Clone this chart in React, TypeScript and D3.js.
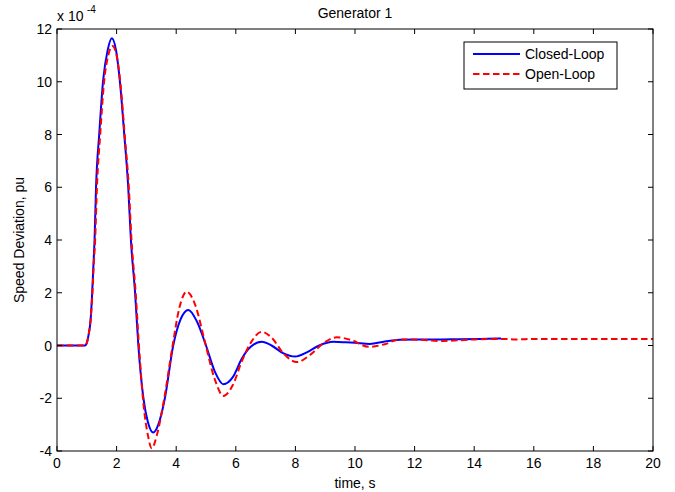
import React from 'react'
import * as d3 from 'd3'

// closed-loop response (speed deviation, x 1e-4 pu)
const closedT = [0, 0.94, 1.0, 1.06, 1.13, 1.18, 1.22, 1.26, 1.31, 1.42, 1.55, 1.7, 1.84, 1.98, 2.12, 2.25, 2.39, 2.48, 2.62, 2.73, 2.9, 3.05, 3.23, 3.4, 3.62, 3.9, 4.15, 4.41, 4.7, 5.0, 5.3, 5.58, 5.9, 6.2, 6.5, 6.87, 7.2, 7.6, 7.99, 8.4, 8.8, 9.27, 9.7, 10.0, 10.5, 11.0, 11.5, 12.0, 12.8, 13.5, 14.2, 14.9]
const closedV = [0, 0, 0.1, 0.4, 1.0, 2.0, 3.0, 4.0, 6.0, 8.06, 10.07, 11.2, 11.65, 11.2, 9.9, 8.1, 6.0, 4.0, 2.0, 0, -2, -2.9, -3.3, -3.0, -2.0, 0, 1.0, 1.35, 0.9, 0, -1.0, -1.47, -1.2, -0.5, -0.05, 0.14, 0.0, -0.3, -0.42, -0.25, 0.0, 0.14, 0.12, 0.1, 0.06, 0.15, 0.22, 0.23, 0.23, 0.24, 0.25, 0.27]

// open-loop response
const openT = [0, 0.94, 1.0, 1.06, 1.13, 1.19, 1.23, 1.28, 1.34, 1.45, 1.58, 1.72, 1.86, 2.0, 2.14, 2.27, 2.41, 2.5, 2.64, 2.75, 2.9, 3.05, 3.18, 3.35, 3.6, 3.88, 4.1, 4.35, 4.65, 4.95, 5.3, 5.58, 5.9, 6.2, 6.5, 6.87, 7.2, 7.6, 8.04, 8.5, 8.9, 9.38, 9.9, 10.45, 11.0, 11.5, 12.2, 12.85, 13.5, 14.2, 15.0, 15.4, 16, 17, 18, 19, 20]
const openV = [0, 0, 0.1, 0.4, 1.0, 2.0, 3.0, 4.0, 6.0, 8.0, 10.0, 11.0, 11.36, 11.0, 9.8, 8.0, 6.0, 4.0, 2.0, 0, -2.2, -3.4, -3.9, -3.4, -2.0, 0, 1.4, 2.04, 1.5, 0.2, -1.3, -1.91, -1.5, -0.6, 0.1, 0.52, 0.3, -0.3, -0.63, -0.35, 0.05, 0.31, 0.2, -0.05, 0.05, 0.23, 0.22, 0.17, 0.2, 0.24, 0.25, 0.23, 0.25, 0.25, 0.25, 0.25, 0.25]

const xTicks = [0, 2, 4, 6, 8, 10, 12, 14, 16, 18, 20]
const yTicks = [-4, -2, 0, 2, 4, 6, 8, 10, 12]
const seriesNames = ['Closed-Loop', 'Open-Loop']

const W = 675
const H = 492
const left = 57, right = 653, top = 29, bottom = 451
const font = 'Liberation Sans, Arial, sans-serif'

export default function App() {
  const x = d3.scaleLinear().domain([0, 20]).range([left, right])
  const y = d3.scaleLinear().domain([-4, 12]).range([bottom, top])

  const line = d3.line<[number, number]>()
    .x(d => x(d[0]))
    .y(d => y(d[1]))
    .curve(d3.curveMonotoneX)

  const closedPath = line(closedT.map((t, i) => [t, closedV[i]]))
  const openPath = line(openT.map((t, i) => [t, openV[i]]))

  const tk = 5

  return (
    <svg width={W} height={H} style={{ position: 'absolute', left: 0, top: 0, background: '#fff' }} fontFamily={font}>
      <rect x={0} y={0} width={W} height={H} fill="#fff" />

      <path d={closedPath || ''} fill="none" stroke="#0000ff" strokeWidth={2} />
      <path d={openPath || ''} fill="none" stroke="#ff0000" strokeWidth={2} strokeDasharray="6.5,3.5" />

      {/* axes box */}
      <rect x={left} y={top} width={right - left} height={bottom - top} fill="none" stroke="#000" strokeWidth={1} />

      {xTicks.map(t => (
        <g key={'x' + t}>
          <line x1={x(t)} x2={x(t)} y1={bottom} y2={bottom - tk} stroke="#000" />
          <line x1={x(t)} x2={x(t)} y1={top} y2={top + tk} stroke="#000" />
          <text x={x(t)} y={468} fontSize={14} textAnchor="middle">{t}</text>
        </g>
      ))}
      {yTicks.map(v => (
        <g key={'y' + v}>
          <line x1={left} x2={left + tk} y1={y(v)} y2={y(v)} stroke="#000" />
          <line x1={right} x2={right - tk} y1={y(v)} y2={y(v)} stroke="#000" />
          <text x={left - 5} y={y(v)} fontSize={14} textAnchor="end" dominantBaseline="central">{v}</text>
        </g>
      ))}

      <text x={57} y={21} fontSize={14}>x 10</text>
      <text x={87} y={13} fontSize={10}>-4</text>

      <text x={(left + right) / 2} y={18} fontSize={14} textAnchor="middle">Generator 1</text>
      <text x={(left + right) / 2} y={488} fontSize={14} textAnchor="middle">time, s</text>
      <text transform={`translate(24,${(top + bottom) / 2}) rotate(-90)`} fontSize={14} textAnchor="middle">Speed Deviation, pu</text>

      {/* legend */}
      <rect x={464} y={42} width={153} height={47} fill="#fff" stroke="#000" />
      <line x1={473} x2={520} y1={54} y2={54} stroke="#0000ff" strokeWidth={2} />
      <text x={525} y={59} fontSize={14}>{seriesNames[0]}</text>
      <line x1={473} x2={520} y1={74} y2={74} stroke="#ff0000" strokeWidth={2} strokeDasharray="6.5,3.5" />
      <text x={525} y={79} fontSize={14}>{seriesNames[1]}</text>
    </svg>
  )
}
